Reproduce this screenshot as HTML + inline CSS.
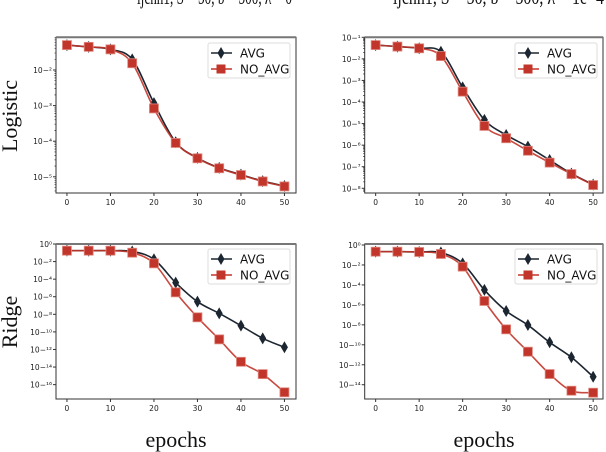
<!DOCTYPE html>
<html><head><meta charset="utf-8"><style>
body{margin:0;background:#fff;}
svg{display:block;}
.tk{font-family:"DejaVu Sans","Liberation Sans",sans-serif;font-size:7.5px;fill:#222;}
.lg{font-family:"DejaVu Sans","Liberation Sans",sans-serif;font-size:12px;fill:#111;}
.big{font-family:"Liberation Serif",serif;font-size:22px;fill:#111;}
.ttl{font-family:"Liberation Serif",serif;font-size:22px;fill:#111;}
</style></head><body>
<svg id="fig" width="606" height="452" viewBox="0 0 606 452" xmlns="http://www.w3.org/2000/svg">
<text class="ttl" x="137" y="4" textLength="155" lengthAdjust="spacingAndGlyphs">ijcnn1, S = 50, b = 500, λ = 0</text>
<text class="ttl" x="393" y="4" textLength="211" lengthAdjust="spacingAndGlyphs">ijcnn1, S = 50, b = 500, λ = 1e−4</text>
<text class="big" transform="translate(17,116) rotate(-90)" text-anchor="middle">Logistic</text>
<text class="big" transform="translate(17,322) rotate(-90)" text-anchor="middle">Ridge</text>
<text class="big" x="176" y="447" text-anchor="middle">epochs</text>
<text class="big" x="484" y="447" text-anchor="middle">epochs</text>
</svg>
<script>
const epochs = [0,5,10,15,20,25,30,35,40,45,50];
const xTicks = [0,10,20,30,40,50];
// log10 values
const logTLavg = [-1.3,-1.35,-1.42,-1.7,-2.93,-4.03,-4.47,-4.75,-4.94,-5.12,-5.26];
const logTLno  = [-1.3,-1.35,-1.42,-1.81,-3.08,-4.05,-4.48,-4.76,-4.95,-5.13,-5.27];
const logTRavg = [-1.36,-1.43,-1.51,-1.67,-3.32,-4.83,-5.53,-6.07,-6.69,-7.32,-7.83];
const logTRno  = [-1.36,-1.43,-1.51,-1.87,-3.52,-5.11,-5.68,-6.26,-6.81,-7.34,-7.85];
const logBLavg = [-0.76,-0.76,-0.76,-0.85,-1.74,-4.4,-6.56,-7.89,-9.29,-10.73,-11.75];
const logBLno  = [-0.76,-0.76,-0.76,-0.99,-2.2,-5.5,-8.34,-10.85,-13.4,-14.8,-16.87];
const logBRavg = [-0.67,-0.67,-0.7,-0.75,-1.84,-4.5,-6.61,-8.02,-9.75,-11.25,-13.2];
const logBRno  = [-0.67,-0.67,-0.7,-0.9,-2.17,-5.61,-8.45,-10.69,-12.93,-14.6,-14.8];
const yTicksTL = [-2,-3,-4,-5];
const yTicksTR = [-1,-2,-3,-4,-5,-6,-7,-8];
const yTicksBL = [0,-2,-4,-6,-8,-10,-12,-14,-16];
const yTicksBR = [0,-2,-4,-6,-8,-10,-12,-14];

const NS="http://www.w3.org/2000/svg";
const svg=document.getElementById('fig');
function mk(tag,attrs,parent){const e=document.createElementNS(NS,tag);for(const k in attrs)e.setAttribute(k,attrs[k]);(parent||svg).appendChild(e);return e;}
function sup(n){const m={'-':'\u2212','0':'\u2070','1':'\u00b9','2':'\u00b2','3':'\u00b3','4':'\u2074','5':'\u2075','6':'\u2076','7':'\u2077','8':'\u2078','9':'\u2079'};return String(n).split('').map(c=>m[c]).join('');}
function smooth(pts){let d='M'+pts[0][0]+','+pts[0][1];for(let i=0;i<pts.length-1;i++){const p0=pts[i-1]||pts[i],p1=pts[i],p2=pts[i+1],p3=pts[i+2]||p2;const c1=[p1[0]+(p2[0]-p0[0])/6,p1[1]+(p2[1]-p0[1])/6],c2=[p2[0]-(p3[0]-p1[0])/6,p2[1]-(p3[1]-p1[1])/6];d+=' C'+c1+' '+c2+' '+p2;}return d;}

function panel(id,box,y0val,y0px,dec,yTicks,avg,no,minor,legendY){
  const g=mk('g',{});
  
  
  const xs=v=>box.x0+10.95+v*4.35;
  const ys=v=>y0px+(y0val-v)*dec;
  const fr=mk('rect',{x:box.x0,y:box.top,width:box.x1-box.x0,height:box.bot-box.top,fill:'#fff',stroke:'#333','stroke-width':1},g);
  
  
  mk('line',{x1:box.x0,x2:box.x1,y1:box.top,y2:box.top,stroke:'#777','stroke-width':2},g);
  xTicks.forEach(t=>{const x=xs(t);mk('line',{x1:x,x2:x,y1:box.bot,y2:box.bot+3,stroke:'#333'},g);
    const tx=mk('text',{x:x,y:box.bot+12,'text-anchor':'middle',class:'tk'},g);tx.textContent=t;
    
    });
  yTicks.forEach(t=>{const y=ys(t);mk('line',{x1:box.x0-3,x2:box.x0,y1:y,y2:y,stroke:'#333'},g);
    const tx=mk('text',{x:box.x0-4,y:y+3,'text-anchor':'end',class:'tk'},g);tx.textContent='10'+sup(t);
    
    
    if(minor){for(let k=2;k<10;k++){const yy=ys(t+Math.log10(k));const yy2=ys(t-1+Math.log10(k));[yy,yy2].forEach(q=>{if(q>box.top&&q<box.bot)mk('line',{x1:box.x0-1.5,x2:box.x0,y1:q,y2:q,stroke:'#333','stroke-width':0.6},g);});}}
  });
  const ser=[[avg,'#1c2631','avg'],[no,'#c2352a','no-avg']];
  ser.forEach(([arr,col,nm],si)=>{
    const pts=epochs.map((e,i)=>[xs(e),ys(arr[i])]);
    const p=mk('path',{d:smooth(pts),fill:'none',stroke:col,'stroke-width':1.6,opacity:si?0.9:1},g);
    
    
    pts.forEach(([x,y])=>{let m;
      if(si===0){m=mk('path',{d:`M${x},${y-6}L${x+3.5},${y}L${x},${y+6}L${x-3.5},${y}Z`,fill:col},g);}
      else{m=mk('rect',{x:x-4.5,y:y-4.5,width:9,height:9,fill:col,stroke:'#e08a80','stroke-width':0.8},g);}
      
      });
  });
  const lx=box.x1-88,ly=legendY;
  const lg=mk('g',{},g);
  
  
  mk('rect',{x:lx,y:ly,width:82,height:35,rx:2,fill:'#fff',stroke:'#ddd'},lg);
  [['AVG','#1c2631',0],['NO_AVG','#c2352a',1]].forEach(([t,c,i])=>{const y=ly+10+i*16,cx=lx+13;
    const le=mk('g',{},lg);
    
    
    mk('line',{x1:lx+3,x2:lx+24,y1:y,y2:y,stroke:c,'stroke-width':1.6},le);
    if(i===0)mk('path',{d:`M${cx},${y-6}L${cx+3.5},${y}L${cx},${y+6}L${cx-3.5},${y}Z`,fill:c},le);
    else mk('rect',{x:cx-4.5,y:y-4.5,width:9,height:9,fill:c},le);
    const tx=mk('text',{x:lx+32,y:y+4.5,class:'lg'},le);tx.textContent=t;});
}
panel('logistic-left',{x0:56,x1:296,top:37.3,bot:193},-2,70,35.6,yTicksTL,logTLavg,logTLno,true,43);
panel('logistic-right',{x0:364.7,x1:603,top:37.3,bot:193},-1,37.3,21.57,yTicksTR,logTRavg,logTRno,true,43);
panel('ridge-left',{x0:56,x1:296,top:244,bot:399},0,244,8.79,yTicksBL,logBLavg,logBLno,false,249);
panel('ridge-right',{x0:364.7,x1:603,top:244,bot:399},0,245,9.98,yTicksBR,logBRavg,logBRno,false,249);
</script>
</body></html>
